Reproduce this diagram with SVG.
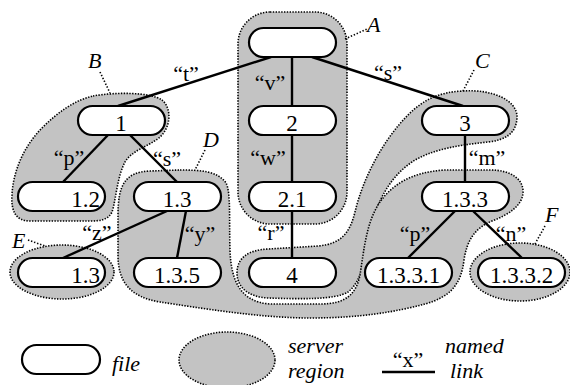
<svg xmlns="http://www.w3.org/2000/svg" width="570" height="385" viewBox="0 0 570 385">
<defs>
<rect id="pill" width="87" height="29" rx="14.5" fill="#fff" stroke="#000" stroke-width="2.2"/>
</defs>
<rect width="570" height="385" fill="#fff"/>
<g id="regions" fill="#c3c3c3" stroke="#000" stroke-width="1.6" stroke-dasharray="1.4 1.4">
<rect id="A" x="238" y="12" width="109" height="212" rx="32"/>
<path id="B" d="M93,96 C115,92 150,92 162,100 C172,108 171,127 160,137 C148,147 132,150 125,162 C117,177 116,200 112,212 C108,220 100,221 90,221 L30,221 C15,221 11,210 12,195 C13,170 25,145 42,128 C58,112 75,100 93,96 Z"/>
<path id="C" d="M463,91 C492,89 518,100 517,118 C516,134 505,140 488,142 C460,145 432,149 412,162 C390,177 378,200 372,225 C366,250 364,280 348,292 C335,300 300,299 268,298 C248,297 237,287 237,273 C237,258 248,250 268,249 L318,246 C342,244 350,232 355,212 C363,178 383,140 408,115 C424,99 440,92 463,91 Z"/>
<path id="D" d="M180,170 C200,170 218,171 226,183 C231,192 229,220 230,250 C231,280 240,302 270,304 L320,304 C345,304 356,295 360,275 C364,250 366,225 378,205 C390,186 410,172 445,170 L490,170 C512,170 524,180 523,193 C522,206 508,215 492,221 C475,228 467,240 464,260 C461,285 450,297 425,304 C395,312 360,318 310,318 C260,318 200,308 160,302 C130,297 118,282 118,255 L118,215 C118,185 125,172 150,171 Z"/>
<ellipse id="E" cx="62" cy="272" rx="52" ry="27"/>
<ellipse id="F" cx="520" cy="272" rx="50" ry="29"/>
</g>
<g id="region-labels">
<g fill="none" stroke="#000" stroke-width="1.6" stroke-dasharray="1.4 1.8">
<path d="M345,39 L367,29"/>
<path d="M100,72 L110,93"/>
<path d="M474,70 L463,91"/>
<path d="M205,150 L195,170"/>
<path d="M28,240 L45,246"/>
<path d="M545,226 L535,244"/>
</g>
<text font-family="serif" font-style="italic" font-size="22" x="367" y="32">A</text>
<text font-family="serif" font-style="italic" font-size="22" x="88" y="68">B</text>
<text font-family="serif" font-style="italic" font-size="22" x="475" y="68">C</text>
<text font-family="serif" font-style="italic" font-size="22" x="203" y="147">D</text>
<text font-family="serif" font-style="italic" font-size="22" x="12" y="248">E</text>
<text font-family="serif" font-style="italic" font-size="22" x="545" y="222">F</text>
</g>
<g id="connectors">
<g stroke="#000" stroke-width="2.4" fill="none">
<line x1="271" y1="57" x2="118" y2="106"/>
<line x1="312" y1="57" x2="463" y2="106"/>
<line x1="292" y1="57" x2="292" y2="106"/>
<line x1="108" y1="135" x2="63" y2="182"/>
<line x1="130" y1="135" x2="177" y2="182"/>
<line x1="292" y1="135" x2="292" y2="182"/>
<line x1="465" y1="135" x2="465" y2="182"/>
<line x1="167" y1="211" x2="63" y2="258"/>
<line x1="186" y1="211" x2="177" y2="258"/>
<line x1="292" y1="211" x2="292" y2="258"/>
<line x1="455" y1="211" x2="408" y2="258"/>
<line x1="473" y1="211" x2="522" y2="258"/>
</g>
<text font-family="serif" font-size="22" text-anchor="middle" x="186" y="81">“t”</text>
<text font-family="serif" font-size="22" text-anchor="middle" x="270" y="90">“v”</text>
<text font-family="serif" font-size="22" text-anchor="middle" x="388" y="80">“s”</text>
<text font-family="serif" font-size="22" text-anchor="middle" x="69" y="165">“p”</text>
<text font-family="serif" font-size="22" text-anchor="middle" x="167" y="166">“s”</text>
<text font-family="serif" font-size="22" text-anchor="middle" x="268" y="165">“w”</text>
<text font-family="serif" font-size="22" text-anchor="middle" x="487" y="165">“m”</text>
<text font-family="serif" font-size="22" text-anchor="middle" x="97" y="240">“z”</text>
<text font-family="serif" font-size="22" text-anchor="middle" x="200" y="241">“y”</text>
<text font-family="serif" font-size="22" text-anchor="middle" x="271" y="240">“r”</text>
<text font-family="serif" font-size="22" text-anchor="middle" x="415" y="241">“p”</text>
<text font-family="serif" font-size="22" text-anchor="middle" x="511" y="241">“n”</text>
</g>
<g id="n-root"><use href="#pill" x="249" y="28"/></g>
<g id="n-1"><use href="#pill" x="78" y="106"/><text font-family="serif" font-size="23" text-anchor="middle" x="121" y="131">1</text></g>
<g id="n-2"><use href="#pill" x="249" y="106"/><text font-family="serif" font-size="23" text-anchor="middle" x="292" y="131">2</text></g>
<g id="n-3"><use href="#pill" x="422" y="106"/><text font-family="serif" font-size="23" text-anchor="middle" x="465" y="131">3</text></g>
<g id="n-1-2"><use href="#pill" x="18" y="182"/><text font-family="serif" font-size="23" text-anchor="end" x="100" y="207">1.2</text></g>
<g id="n-1-3"><use href="#pill" x="134" y="182"/><text font-family="serif" font-size="23" text-anchor="middle" x="177" y="207">1.3</text></g>
<g id="n-2-1"><use href="#pill" x="249" y="182"/><text font-family="serif" font-size="23" text-anchor="middle" x="292" y="207">2.1</text></g>
<g id="n-1-3-3"><use href="#pill" x="422" y="182"/><text font-family="serif" font-size="23" text-anchor="middle" x="465" y="207">1.3.3</text></g>
<g id="n-1-3e"><use href="#pill" x="18" y="258"/><text font-family="serif" font-size="23" text-anchor="end" x="100" y="283">1.3</text></g>
<g id="n-1-3-5"><use href="#pill" x="134" y="258"/><text font-family="serif" font-size="23" text-anchor="middle" x="177" y="283">1.3.5</text></g>
<g id="n-4"><use href="#pill" x="249" y="258"/><text font-family="serif" font-size="23" text-anchor="middle" x="292" y="283">4</text></g>
<g id="n-1-3-3-1"><use href="#pill" x="365" y="258"/><text font-family="serif" font-size="23" text-anchor="middle" x="408.5" y="283">1.3.3.1</text></g>
<g id="n-1-3-3-2"><use href="#pill" x="478" y="258"/><text font-family="serif" font-size="23" text-anchor="middle" x="521.5" y="283">1.3.3.2</text></g>
<g id="legend">
<rect x="22" y="345" width="78" height="29" rx="14.5" fill="#fff" stroke="#000" stroke-width="2.2"/>
<text font-family="serif" font-style="italic" font-size="22" x="112" y="371">file</text>
<ellipse cx="227" cy="360" rx="48" ry="28" fill="#c3c3c3" stroke="#000" stroke-width="1.6" stroke-dasharray="1.4 1.4"/>
<text font-family="serif" font-style="italic" font-size="22" x="288" y="353">server</text>
<text font-family="serif" font-style="italic" font-size="22" x="288" y="378">region</text>
<line x1="382" y1="372" x2="435" y2="372" stroke="#000" stroke-width="2.4"/>
<text font-family="serif" font-size="22" text-anchor="middle" x="408" y="367">“x”</text>
<text font-family="serif" font-style="italic" font-size="22" x="445" y="353">named</text>
<text font-family="serif" font-style="italic" font-size="22" x="450" y="378">link</text>
</g>
</svg>
